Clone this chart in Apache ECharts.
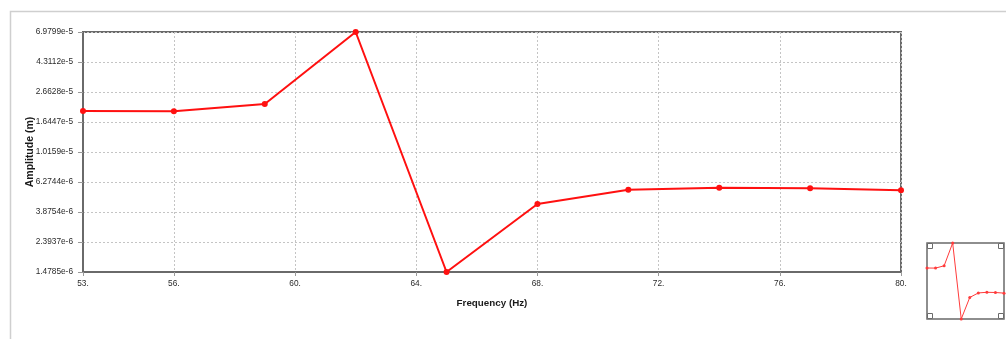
<!DOCTYPE html>
<html><head><meta charset="utf-8">
<script src="https://cdn.jsdelivr.net/npm/echarts@6/dist/echarts.min.js"></script>
<style>html,body{margin:0;padding:0;background:#fff;}#c{width:1006px;height:339px;}</style>
</head><body><div id="c"></div>
<script>
const freqs = [53, 56, 59, 62, 65, 68, 71, 74, 77, 80];
const amplitude = [1.962e-5, 1.955e-5, 2.196e-5, 6.9799e-5, 1.4785e-6, 4.41e-6, 5.545e-6, 5.73e-6, 5.67e-6, 5.49e-6];
const xTicks = [53, 56, 60, 64, 68, 72, 76, 80];
const yTicks = [1.4785e-6, 2.3937e-6, 3.8754e-6, 6.2744e-6, 1.0159e-5, 1.6447e-5, 2.6628e-5, 4.3112e-5, 6.9799e-5];
const yTickLabels = ['1.4785e-6', '2.3937e-6', '3.8754e-6', '6.2744e-6', '1.0159e-5', '1.6447e-5', '2.6628e-5', '4.3112e-5', '6.9799e-5'];

const pts = freqs.map((f, i) => [f, amplitude[i]]);
function yLabel(v) {
  let best = 0, bd = Infinity;
  yTicks.forEach((t, i) => { const d = Math.abs(Math.log(v) - Math.log(t)); if (d < bd) { bd = d; best = i; } });
  return yTickLabels[best];
}
const font = 'Liberation Sans';
const chart = echarts.init(document.getElementById('c'), null, {renderer: 'canvas'});
chart.setOption({
  animation: false,
  backgroundColor: '#fff',
  grid: [
    {left: 83, top: 32, right: 105, bottom: 67, show: true, borderColor: '#6a6a6a', borderWidth: 2, backgroundColor: '#fff'},
    {left: 927, top: 243, width: 77, height: 76, show: true, borderColor: '#6a6a6a', borderWidth: 1.5, backgroundColor: '#fff'}
  ],
  xAxis: [{
    type: 'value', gridIndex: 0, min: 53, max: 80,
    name: 'Frequency (Hz)', nameLocation: 'middle', nameGap: 26, nameMoveOverlap: false,
    nameTextStyle: {fontFamily: font, fontWeight: 'bold', fontSize: 9.8, color: '#1a1a1a'},
    axisLine: {show: true, lineStyle: {color: '#6a6a6a', width: 2}},
    axisTick: {show: true, length: 4, lineStyle: {color: '#999'}, customValues: xTicks},
    axisLabel: {customValues: xTicks, formatter: v => v + '.', fontFamily: font, fontSize: 8.3, color: '#2a2a2a', margin: 8},
    splitLine: {show: true, lineStyle: {color: '#c4c4c4', type: [2, 2], width: 1}}
  }, {
    type: 'value', gridIndex: 1, min: 53, max: 80,
    axisLine: {show: false}, axisTick: {show: false}, axisLabel: {show: false}, splitLine: {show: false}
  }],
  yAxis: [{
    type: 'log', gridIndex: 0, min: yTicks[0], max: yTicks[yTicks.length - 1],
    name: 'Amplitude (m)', nameLocation: 'middle', nameGap: 47, nameMoveOverlap: false,
    nameTextStyle: {fontFamily: font, fontWeight: 'bold', fontSize: 10.5, color: '#1a1a1a'},
    axisLine: {show: true, lineStyle: {color: '#6a6a6a', width: 2}},
    axisTick: {show: true, length: 5, lineStyle: {color: '#999'}, customValues: yTicks},
    axisLabel: {customValues: yTicks, formatter: yLabel, fontFamily: font, fontSize: 8.3, color: '#2a2a2a', margin: 10},
    splitLine: {show: true, lineStyle: {color: '#c4c4c4', type: [2, 2], width: 1}}
  }, {
    type: 'log', gridIndex: 1, min: yTicks[0], max: yTicks[yTicks.length - 1],
    axisLine: {show: false}, axisTick: {show: false}, axisLabel: {show: false}, splitLine: {show: false}
  }],
  series: [{
    type: 'line', xAxisIndex: 0, yAxisIndex: 0, data: pts,
    symbol: 'circle', symbolSize: 6, clip: false,
    lineStyle: {color: '#ff1010', width: 2},
    itemStyle: {color: '#ff1010'}
  }, {
    type: 'line', xAxisIndex: 1, yAxisIndex: 1, data: pts,
    symbol: 'circle', symbolSize: 3, clip: false,
    lineStyle: {color: '#ff3b3b', width: 1},
    itemStyle: {color: '#ff3b3b'}
  }],
  graphic: [
    {type: 'rect', shape: {x: 10.5, y: 11.5, width: 1100, height: 400}, style: {fill: null, stroke: '#cfcfcf', lineWidth: 1.5}, z: -1},
    {type: 'rect', shape: {x: 927.5, y: 243.5, width: 5, height: 5}, style: {fill: '#fff', stroke: '#6a6a6a', lineWidth: 1}, z: 10},
    {type: 'rect', shape: {x: 998.5, y: 243.5, width: 5, height: 5}, style: {fill: '#fff', stroke: '#6a6a6a', lineWidth: 1}, z: 10},
    {type: 'rect', shape: {x: 927.5, y: 313.5, width: 5, height: 5}, style: {fill: '#fff', stroke: '#6a6a6a', lineWidth: 1}, z: 10},
    {type: 'rect', shape: {x: 998.5, y: 313.5, width: 5, height: 5}, style: {fill: '#fff', stroke: '#6a6a6a', lineWidth: 1}, z: 10}
  ]
});
</script></body></html>
